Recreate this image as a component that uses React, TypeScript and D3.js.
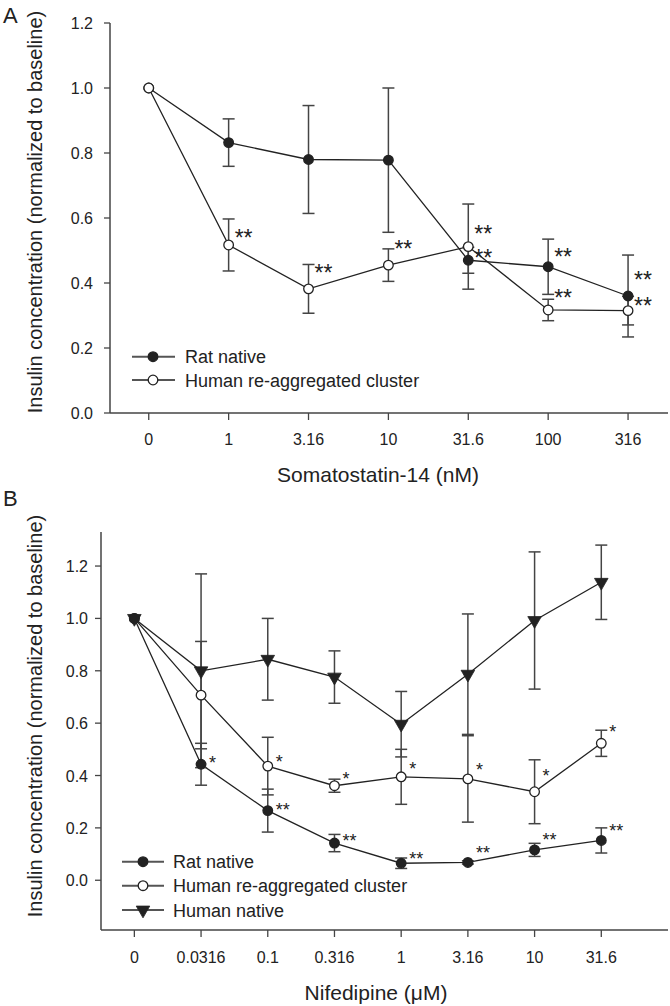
import React from 'react';
import * as d3 from 'd3';

const W = 670;
const H = 1006;
const FONT = '"Liberation Sans", Arial, Helvetica, sans-serif';
const INK = '#222';
const AXIS = '#444';
const BAR = '#444';

// ---------- Panel A data ----------
const concA = ['0', '1', '3.16', '10', '31.6', '100', '316'];
const ratA = [1.0, 0.832, 0.78, 0.778, 0.47, 0.45, 0.36];
const ratAErr = [0, 0.073, 0.166, 0.222, 0.04, 0.085, 0.126];
const clusterA = [1.0, 0.517, 0.382, 0.455, 0.512, 0.317, 0.315];
const clusterAErr = [0, 0.08, 0.075, 0.05, 0.131, 0.033, 0.044];
const yTicksA = [0, 0.2, 0.4, 0.6, 0.8, 1.0, 1.2];
const sigA = [
  { i: 1, v: 0.555, t: '**' },
  { i: 2, v: 0.447, t: '**' },
  { i: 3, v: 0.522, t: '**' },
  { i: 4, v: 0.568, t: '**' },
  { i: 4, v: 0.495, t: '**' },
  { i: 5, v: 0.496, t: '**' },
  { i: 5, v: 0.37, t: '**' },
  { i: 6, v: 0.425, t: '**' },
  { i: 6, v: 0.346, t: '**' },
];

// ---------- Panel B data ----------
const concB = ['0', '0.0316', '0.1', '0.316', '1', '3.16', '10', '31.6'];
const ratB = [1.0, 0.443, 0.266, 0.142, 0.065, 0.068, 0.116, 0.152];
const ratBErr = [0, 0.08, 0.082, 0.033, 0.02, 0.006, 0.025, 0.048];
const clusterB = [1.0, 0.707, 0.436, 0.361, 0.395, 0.387, 0.338, 0.523];
const clusterBErr = [0, 0.205, 0.11, 0.025, 0.105, 0.165, 0.122, 0.05];
const humanB = [1.0, 0.8, 0.844, 0.776, 0.596, 0.787, 0.992, 1.138];
const humanBErr = [0, 0.37, 0.156, 0.1, 0.125, 0.23, 0.262, 0.142];
const yTicksB = [0, 0.2, 0.4, 0.6, 0.8, 1.0, 1.2];
const sigB = [
  { i: 1, v: 0.463, t: '*' },
  { i: 2, v: 0.284, t: '**' },
  { i: 3, v: 0.167, t: '**' },
  { i: 4, v: 0.097, t: '**' },
  { i: 5, v: 0.12, t: '**' },
  { i: 6, v: 0.17, t: '**' },
  { i: 7, v: 0.203, t: '**' },
  { i: 2, v: 0.467, t: '*' },
  { i: 3, v: 0.402, t: '*' },
  { i: 4, v: 0.44, t: '*' },
  { i: 5, v: 0.436, t: '*' },
  { i: 6, v: 0.414, t: '*' },
  { i: 7, v: 0.581, t: '*' },
];

const seriesNames = ['Rat native', 'Human re-aggregated cluster', 'Human native'];

type Series = { name: string; values: number[]; errs: number[]; marker: 'filled' | 'open' | 'tri' };

type PanelCfg = {
  letter: string;
  letterPos: [number, number];
  cats: string[];
  series: Series[];
  markerOrder: number[];
  yTicks: number[];
  sig: { i: number; v: number; t: string }[];
  sigFont: number;
  sigDy: number;
  sigDx: number;
  xDomain: [number, number];
  xRange: [number, number];
  yDomain: [number, number];
  yRange: [number, number];
  xAxisY: number;
  tickLabelGap: number;
  xLabelBaseline: number;
  xTitle: string;
  xTitlePos: [number, number];
  yTitlePos: [number, number];
  legend: { x0: number; x1: number; xm: number; xt: number; ys: number[] };
};

function Marker({ kind, x, y }: { kind: string; x: number; y: number }) {
  if (kind === 'tri') {
    const p = d3.symbol().type(d3.symbolTriangle).size(80)() as string;
    return <path d={p} transform={`translate(${x},${y}) rotate(180)`} fill={INK} stroke={INK} strokeWidth={0.8} />;
  }
  return (
    <circle cx={x} cy={y} r={4.8} fill={kind === 'filled' ? INK : '#fff'} stroke={INK} strokeWidth={1.3} />
  );
}

function Panel({ cfg }: { cfg: PanelCfg }) {
  const x = d3.scaleLinear().domain(cfg.xDomain).range(cfg.xRange);
  const y = d3.scaleLinear().domain(cfg.yDomain).range(cfg.yRange);
  const axisX = cfg.xRange[0];
  const line = d3
    .line<number>()
    .x((_, i) => x(i))
    .y((d) => y(d));
  const capW = 6;
  return (
    <g fontFamily={FONT}>
      <text x={cfg.letterPos[0]} y={cfg.letterPos[1]} fontSize={22} fill={INK}>
        {cfg.letter}
      </text>
      {/* axes */}
      <line x1={axisX} x2={axisX} y1={cfg.yRange[1]} y2={cfg.xAxisY} stroke={AXIS} strokeWidth={1.5} />
      <line x1={axisX} x2={cfg.xRange[1]} y1={cfg.xAxisY} y2={cfg.xAxisY} stroke={AXIS} strokeWidth={1.5} />
      {cfg.yTicks.map((t) => (
        <g key={'yt' + t}>
          <line x1={axisX - 6} x2={axisX} y1={y(t)} y2={y(t)} stroke={AXIS} strokeWidth={1.3} />
          <text x={axisX - cfg.tickLabelGap} y={y(t) + 6} fontSize={16} textAnchor="end" fill={INK}>
            {t.toFixed(1)}
          </text>
        </g>
      ))}
      {cfg.cats.map((c, i) => (
        <g key={'xt' + c}>
          <line x1={x(i)} x2={x(i)} y1={cfg.xAxisY} y2={cfg.xAxisY + 7} stroke={AXIS} strokeWidth={1.3} />
          <text x={x(i)} y={cfg.xLabelBaseline} fontSize={16} textAnchor="middle" fill={INK}>
            {c}
          </text>
        </g>
      ))}
      <text x={cfg.xTitlePos[0]} y={cfg.xTitlePos[1]} fontSize={21} textAnchor="middle" fill={INK}>
        {cfg.xTitle}
      </text>
      <text
        transform={`translate(${cfg.yTitlePos[0]},${cfg.yTitlePos[1]}) rotate(-90)`}
        fontSize={20}
        textAnchor="middle"
        fill={INK}
      >
        Insulin concentration (normalized to baseline)
      </text>
      {/* lines */}
      {cfg.series.map((s) => (
        <path key={'l' + s.name} d={line(s.values) as string} fill="none" stroke={INK} strokeWidth={1.3} />
      ))}
      {/* error bars */}
      {cfg.series.map((s) =>
        s.values.map((v, i) =>
          s.errs[i] > 0 ? (
            <g key={'e' + s.name + i} stroke={BAR} strokeWidth={1.5}>
              <line x1={x(i)} x2={x(i)} y1={y(v - s.errs[i])} y2={y(v + s.errs[i])} />
              <line x1={x(i) - capW} x2={x(i) + capW} y1={y(v + s.errs[i])} y2={y(v + s.errs[i])} />
              <line x1={x(i) - capW} x2={x(i) + capW} y1={y(v - s.errs[i])} y2={y(v - s.errs[i])} />
            </g>
          ) : null
        )
      )}
      {/* markers */}
      {cfg.markerOrder.map((k) => {
        const s = cfg.series[k];
        return s.values.map((v, i) => <Marker key={'m' + s.name + i} kind={s.marker} x={x(i)} y={y(v)} />);
      })}
      {/* significance */}
      {cfg.sig.map((s, k) => (
        <text key={'s' + k} x={x(s.i) + cfg.sigDx} y={y(s.v) + cfg.sigDy} fontSize={cfg.sigFont} fill={INK}>
          {s.t}
        </text>
      ))}
      {/* legend */}
      {cfg.series.map((s, k) => (
        <g key={'lg' + s.name}>
          <line
            x1={cfg.legend.x0}
            x2={cfg.legend.x1}
            y1={cfg.legend.ys[k]}
            y2={cfg.legend.ys[k]}
            stroke="#555"
            strokeWidth={2}
          />
          <Marker kind={s.marker} x={cfg.legend.xm} y={cfg.legend.ys[k]} />
          <text x={cfg.legend.xt} y={cfg.legend.ys[k] + 6.5} fontSize={18} fill={INK}>
            {s.name}
          </text>
        </g>
      ))}
    </g>
  );
}

const panelA: PanelCfg = {
  letter: 'A',
  letterPos: [3, 23],
  cats: concA,
  series: [
    { name: seriesNames[0], values: ratA, errs: ratAErr, marker: 'filled' },
    { name: seriesNames[1], values: clusterA, errs: clusterAErr, marker: 'open' },
  ],
  markerOrder: [0, 1],
  yTicks: yTicksA,
  sig: sigA,
  sigFont: 23,
  sigDy: 13.5,
  sigDx: 6,
  xDomain: [-0.485, 6.5],
  xRange: [110, 668],
  yDomain: [0, 1.2],
  yRange: [413, 23],
  xAxisY: 413,
  tickLabelGap: 17,
  xLabelBaseline: 445,
  xTitle: 'Somatostatin-14 (nM)',
  xTitlePos: [378, 482],
  yTitlePos: [42, 212],
  legend: { x0: 132, x1: 175, xm: 153, xt: 185, ys: [356.7, 380] },
};

const panelB: PanelCfg = {
  letter: 'B',
  letterPos: [3, 506],
  cats: concB,
  series: [
    { name: seriesNames[0], values: ratB, errs: ratBErr, marker: 'filled' },
    { name: seriesNames[1], values: clusterB, errs: clusterBErr, marker: 'open' },
    { name: seriesNames[2], values: humanB, errs: humanBErr, marker: 'tri' },
  ],
  markerOrder: [2, 1, 0],
  yTicks: yTicksB,
  sig: sigB,
  sigFont: 18,
  sigDy: 10,
  sigDx: 8,
  xDomain: [-0.5, 8.0],
  xRange: [101, 668],
  yDomain: [-0.19, 1.33],
  yRange: [930, 532],
  xAxisY: 930,
  tickLabelGap: 13,
  xLabelBaseline: 963,
  xTitle: 'Nifedipine (μM)',
  xTitlePos: [376, 1000],
  yTitlePos: [42, 716],
  legend: { x0: 122, x1: 164, xm: 143, xt: 173, ys: [861.7, 885.7, 910] },
};

export default function App() {
  return (
    <svg
      width={W}
      height={H}
      viewBox={`0 0 ${W} ${H}`}
      style={{ position: 'absolute', left: 0, top: 0, background: '#fff' }}
    >
      <rect width={W} height={H} fill="#fff" />
      <Panel cfg={panelA} />
      <Panel cfg={panelB} />
    </svg>
  );
}
